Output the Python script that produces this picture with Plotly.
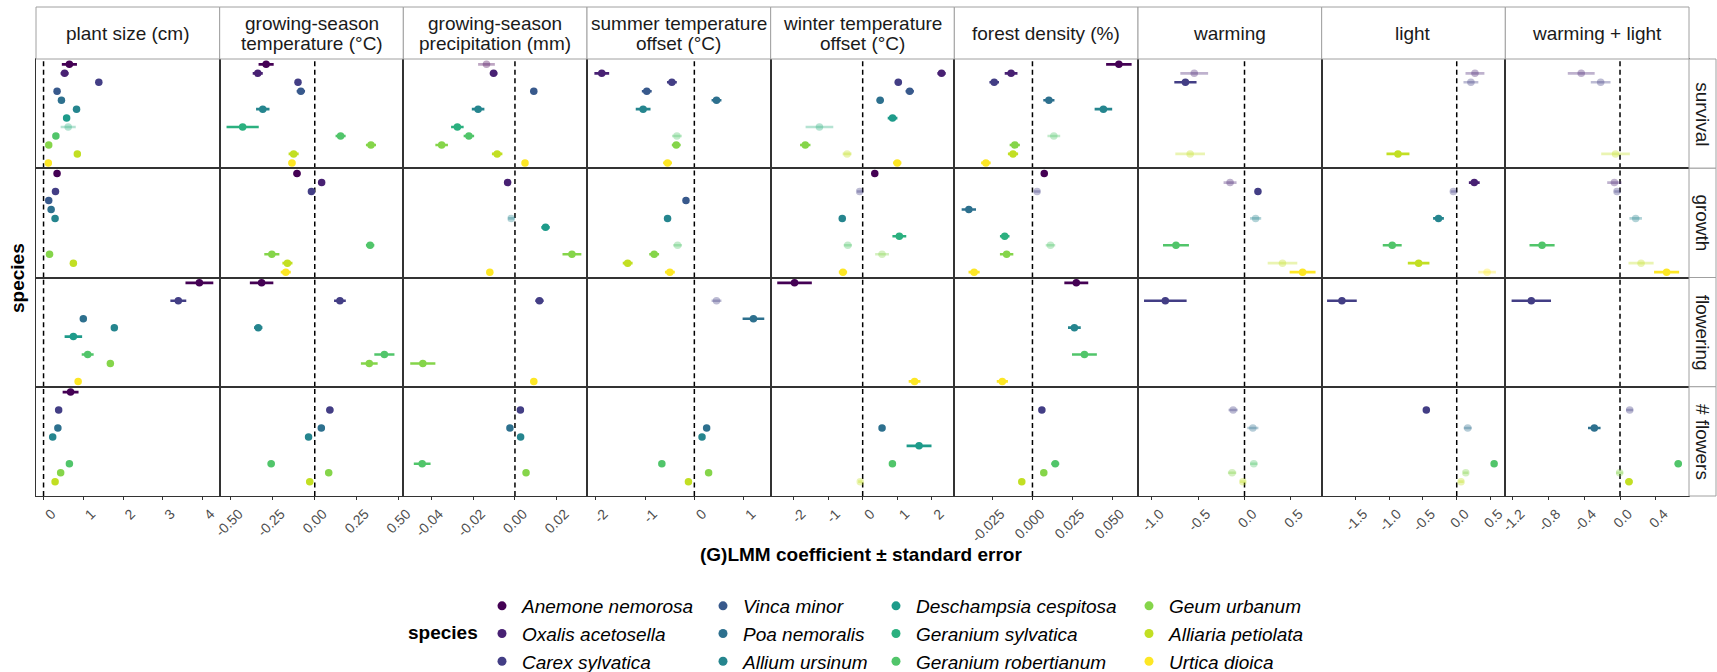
import plotly.graph_objects as go

# ---------------- data ----------------
species = ["Anemone nemorosa", "Oxalis acetosella", "Carex sylvatica", "Vinca minor",
           "Poa nemoralis", "Allium ursinum", "Deschampsia cespitosa", "Geranium sylvatica",
           "Geranium robertianum", "Geum urbanum", "Alliaria petiolata", "Urtica dioica"]
colors = ["#440154", "#482173", "#433E85", "#38598C", "#2D708E", "#25858E",
          "#1E9B8A", "#2BB07F", "#51C56A", "#85D54A", "#C2DF23", "#FDE725"]
responses = ["survival", "growth", "flowering", "# flowers"]
predictor_labels = [["plant size (cm)"], ["growing-season", "temperature (°C)"],
                    ["growing-season", "precipitation (mm)"], ["summer temperature", "offset (°C)"],
                    ["winter temperature", "offset (°C)"], ["forest density (%)"],
                    ["warming"], ["light"], ["warming + light"]]

# (species index, coefficient, standard error, significant)
plant_size = {
    "survival": [(0, 0.65, 0.19, 1), (1, 0.53, 0.10, 1), (2, 1.39, 0.05, 1), (3, 0.34, 0.05, 1),
                 (4, 0.45, 0.05, 1), (5, 0.83, 0.05, 1), (6, 0.58, 0.05, 1), (7, 0.62, 0.19, 0),
                 (8, 0.31, 0.05, 1), (9, 0.13, 0.05, 1), (10, 0.85, 0.05, 1), (11, 0.12, 0.05, 1)],
    "growth": [(0, 0.34, 0.04, 1), (2, 0.30, 0.04, 1), (3, 0.13, 0.04, 1), (4, 0.19, 0.04, 1),
               (5, 0.29, 0.04, 1), (9, 0.15, 0.04, 1), (10, 0.75, 0.05, 1)],
    "flowering": [(0, 3.92, 0.35, 1), (2, 3.39, 0.20, 1), (4, 1.00, 0.06, 1), (5, 1.78, 0.06, 1),
                  (6, 0.75, 0.22, 1), (8, 1.11, 0.15, 1), (9, 1.68, 0.07, 1), (11, 0.87, 0.05, 1)],
    "# flowers": [(0, 0.68, 0.20, 1), (2, 0.38, 0.04, 1), (4, 0.36, 0.04, 1), (5, 0.23, 0.05, 1),
                  (8, 0.65, 0.05, 1), (9, 0.43, 0.05, 1), (10, 0.29, 0.05, 1)],
}
gs_temperature = {
    "survival": [(0, -0.29, 0.045, 1), (1, -0.34, 0.03, 1), (2, -0.10, 0.015, 1), (3, -0.083, 0.025, 1),
                 (5, -0.31, 0.04, 1), (7, -0.43, 0.096, 1), (8, 0.154, 0.03, 1), (9, 0.335, 0.03, 1),
                 (10, -0.126, 0.03, 1), (11, -0.136, 0.02, 1)],
    "growth": [(0, -0.106, 0.02, 1), (1, 0.041, 0.02, 1), (2, -0.02, 0.02, 1), (8, 0.33, 0.025, 1),
               (9, -0.256, 0.045, 1), (10, -0.163, 0.03, 1), (11, -0.173, 0.03, 1)],
    "flowering": [(0, -0.317, 0.07, 1), (2, 0.15, 0.035, 1), (5, -0.337, 0.025, 1),
                  (8, 0.415, 0.06, 1), (9, 0.325, 0.05, 1)],
    "# flowers": [(2, 0.09, 0.02, 1), (4, 0.039, 0.02, 1), (5, -0.037, 0.02, 1),
                  (8, -0.26, 0.02, 1), (9, 0.083, 0.02, 1), (10, -0.03, 0.02, 1)],
}
gs_precipitation = {
    "survival": [(0, -0.0136, 0.004, 0), (1, -0.0102, 0.0018, 1), (3, 0.009, 0.0015, 1),
                 (5, -0.0176, 0.003, 1), (7, -0.0275, 0.003, 1), (8, -0.022, 0.0025, 1),
                 (9, -0.035, 0.003, 1), (10, -0.0085, 0.0025, 1), (11, 0.0048, 0.0012, 1)],
    "growth": [(1, -0.0035, 0.0012, 1), (5, -0.0018, 0.0015, 0), (6, 0.0146, 0.002, 1),
               (9, 0.0272, 0.0045, 1), (11, -0.012, 0.0015, 1)],
    "flowering": [(2, 0.0117, 0.002, 1), (9, -0.044, 0.006, 1), (11, 0.009, 0.0015, 1)],
    "# flowers": [(2, 0.0026, 0.001, 1), (4, -0.0024, 0.001, 1), (5, 0.0027, 0.001, 1),
                  (8, -0.0443, 0.004, 1), (9, 0.0053, 0.001, 1)],
}
summer_offset = {
    "survival": [(1, -1.88, 0.15, 1), (2, -0.456, 0.10, 1), (3, -0.966, 0.10, 1), (4, 0.45, 0.10, 1),
                 (5, -1.04, 0.15, 1), (8, -0.354, 0.10, 0), (9, -0.367, 0.09, 1), (11, -0.544, 0.09, 1)],
    "growth": [(3, -0.17, 0.05, 1), (5, -0.544, 0.05, 1), (8, -0.34, 0.09, 0), (9, -0.816, 0.10, 1),
               (10, -1.354, 0.10, 1), (11, -0.497, 0.10, 1)],
    "flowering": [(2, 0.45, 0.10, 0), (4, 1.20, 0.22, 1)],
    "# flowers": [(4, 0.25, 0.05, 1), (5, 0.156, 0.05, 1), (8, -0.66, 0.05, 1),
                  (9, 0.29, 0.05, 1), (10, -0.12, 0.05, 1)],
}
winter_offset = {
    "survival": [(1, 2.28, 0.12, 1), (2, 1.03, 0.10, 1), (3, 1.36, 0.12, 1), (4, 0.505, 0.10, 1),
                 (6, 0.864, 0.14, 1), (7, -1.25, 0.40, 0), (9, -1.66, 0.15, 1), (10, -0.45, 0.13, 0),
                 (11, 1.00, 0.12, 1)],
    "growth": [(0, 0.35, 0.06, 1), (2, -0.087, 0.08, 0), (5, -0.59, 0.07, 1), (7, 1.06, 0.20, 1),
               (8, -0.43, 0.12, 0), (9, 0.56, 0.20, 0), (11, -0.57, 0.12, 1)],
    "flowering": [(0, -1.97, 0.50, 1), (11, 1.50, 0.17, 1)],
    "# flowers": [(4, 0.56, 0.07, 1), (6, 1.63, 0.36, 1), (8, 0.86, 0.07, 1), (10, -0.07, 0.06, 0)],
}
forest_density = {
    "survival": [(0, 0.0542, 0.008, 1), (1, -0.0134, 0.004, 1), (2, -0.024, 0.003, 1),
                 (4, 0.0103, 0.0035, 1), (5, 0.0445, 0.0055, 1), (8, 0.0134, 0.004, 0),
                 (9, -0.0111, 0.0032, 1), (10, -0.0122, 0.0032, 1), (11, -0.0292, 0.003, 1)],
    "growth": [(0, 0.0074, 0.0015, 1), (2, 0.0029, 0.002, 0), (4, -0.0399, 0.0045, 1),
               (7, -0.0174, 0.003, 1), (8, 0.0113, 0.003, 0), (9, -0.0162, 0.0042, 1),
               (11, -0.0366, 0.0035, 1)],
    "flowering": [(0, 0.0275, 0.0075, 1), (5, 0.0263, 0.004, 1), (8, 0.0326, 0.0078, 1),
                  (11, -0.0189, 0.0035, 1)],
    "# flowers": [(2, 0.0059, 0.0015, 1), (8, 0.0143, 0.0025, 1), (9, 0.0071, 0.0015, 1),
                  (10, -0.0067, 0.0015, 1)],
}
warming = {
    "survival": [(1, -0.543, 0.15, 0), (2, -0.638, 0.12, 1), (10, -0.587, 0.16, 0)],
    "growth": [(1, -0.156, 0.07, 0), (2, 0.145, 0.03, 1), (5, 0.12, 0.06, 0), (8, -0.74, 0.14, 1),
               (10, 0.41, 0.16, 0), (11, 0.627, 0.14, 1)],
    "flowering": [(2, -0.855, 0.23, 1)],
    "# flowers": [(2, -0.123, 0.05, 0), (4, 0.09, 0.06, 0), (8, 0.10, 0.04, 0),
                  (9, -0.134, 0.045, 0), (10, -0.018, 0.03, 0)],
}
light = {
    "survival": [(1, 0.27, 0.14, 0), (2, 0.21, 0.11, 0), (10, -0.87, 0.17, 1)],
    "growth": [(1, 0.26, 0.08, 1), (2, -0.05, 0.04, 0), (5, -0.27, 0.08, 1), (8, -0.955, 0.14, 1),
               (10, -0.564, 0.16, 1), (11, 0.45, 0.13, 0)],
    "flowering": [(2, -1.70, 0.22, 1)],
    "# flowers": [(2, -0.45, 0.04, 1), (4, 0.163, 0.06, 0), (8, 0.554, 0.04, 1),
                  (9, 0.134, 0.04, 0), (10, 0.064, 0.04, 0)],
}
warming_light = {
    "survival": [(1, -0.433, 0.15, 0), (2, -0.216, 0.11, 0), (10, -0.05, 0.16, 0)],
    "growth": [(1, -0.063, 0.08, 0), (2, -0.034, 0.03, 0), (5, 0.175, 0.07, 0), (8, -0.87, 0.14, 1),
               (10, 0.235, 0.14, 0), (11, 0.52, 0.14, 1)],
    "flowering": [(2, -0.99, 0.22, 1)],
    "# flowers": [(2, 0.108, 0.04, 0), (4, -0.287, 0.07, 1), (8, 0.65, 0.04, 1),
                  (9, -0.004, 0.04, 0), (10, 0.10, 0.04, 1)],
}
predictors = [plant_size, gs_temperature, gs_precipitation, summer_offset, winter_offset,
              forest_density, warming, light, warming_light]

tick_vals = [[0, 1, 2, 3, 4], [-0.5, -0.25, 0, 0.25, 0.5], [-0.04, -0.02, 0, 0.02],
             [-2, -1, 0, 1], [-2, -1, 0, 1, 2], [-0.025, 0, 0.025, 0.05],
             [-1, -0.5, 0, 0.5], [-1.5, -1, -0.5, 0, 0.5], [-1.2, -0.8, -0.4, 0, 0.4]]
tick_text = [["0", "1", "2", "3", "4"], ["-0.50", "-0.25", "0.00", "0.25", "0.50"],
             ["-0.04", "-0.02", "0.00", "0.02"], ["-2", "-1", "0", "1"], ["-2", "-1", "0", "1", "2"],
             ["-0.025", "0.000", "0.025", "0.050"], ["-1.0", "-0.5", "0.0", "0.5"],
             ["-1.5", "-1.0", "-0.5", "0.0", "0.5"], ["-1.2", "-0.8", "-0.4", "0.0", "0.4"]]
x_ranges = [[-0.19, 4.43], [-0.567, 0.528], [-0.0533, 0.0344], [-2.18, 1.55], [-2.66, 2.65],
            [-0.049, 0.0662], [-1.15, 0.833], [-2.0, 0.72], [-1.28, 0.77]]

# ---------------- layout geometry (pixels) ----------------
W, H = 1717, 672
FONT = "Liberation Sans, Arial, Helvetica, sans-serif"
left, right = 36, 1689
top, bottom = 59, 496
strip_top = 7
strip_right = 1716
ncol, nrow = 9, 4
cw = (right - left) / ncol
rh = (bottom - top) / nrow


def px(x):
    return x / W


def py(y):
    return 1 - y / H


def rgba(hexc, a):
    h = hexc.lstrip("#")
    return "rgba(%d,%d,%d,%.2f)" % (int(h[0:2], 16), int(h[2:4], 16), int(h[4:6], 16), a)


fig = go.Figure()
layout = {}
shapes = []
annotations = []

for r, resp in enumerate(responses):
    for c in range(ncol):
        k = r * ncol + c + 1
        xa = "x" if k == 1 else "x%d" % k
        ya = "y" if k == 1 else "y%d" % k
        x0 = left + c * cw
        y0 = top + r * rh
        bottom_row = (r == nrow - 1)
        layout["xaxis" if k == 1 else "xaxis%d" % k] = dict(
            domain=[px(x0), px(x0 + cw)], anchor=ya, range=x_ranges[c],
            tickvals=tick_vals[c], ticktext=tick_text[c],
            showticklabels=bottom_row, ticks="outside" if bottom_row else "",
            ticklen=3, tickwidth=1, tickcolor="#333333", tickangle=-45, ticklabelshift=8,
            tickfont=dict(family=FONT, size=14, color="#4d4d4d"), automargin=False,
            showgrid=False, zeroline=False, showline=True, mirror=True,
            linecolor="#333333", linewidth=1.3, fixedrange=True)
        layout["yaxis" if k == 1 else "yaxis%d" % k] = dict(
            domain=[py(y0 + rh), py(y0)], anchor=xa, range=[12.6, 0.4], automargin=False,
            showticklabels=False, ticks="", showgrid=False, zeroline=False,
            showline=True, mirror=True, linecolor="#333333", linewidth=1.3, fixedrange=True)
        # zero reference line
        shapes.append(dict(type="line", xref=xa, yref=ya + " domain", x0=0, x1=0, y0=0, y1=1,
                           line=dict(color="black", width=1.5, dash="5px,3.5px"), layer="below"))
        for (si, est, se, sig) in predictors[c][resp]:
            col = colors[si] if sig else rgba(colors[si], 0.35)
            fig.add_trace(go.Scatter(
                x=[est], y=[si + 1], xaxis=xa, yaxis=ya, mode="markers",
                marker=dict(size=7.5, color=col, line=dict(width=0)),
                error_x=dict(type="data", array=[se], color=col, thickness=2.6, width=0),
                showlegend=False, hoverinfo="skip"))

# strips
for c in range(ncol):
    x0 = left + c * cw
    shapes.append(dict(type="rect", xref="paper", yref="paper", x0=px(x0), x1=px(x0 + cw),
                       y0=py(top), y1=py(strip_top), fillcolor="white",
                       line=dict(color="#a0a0a0", width=1)))
    lines = predictor_labels[c]
    ys = [33.5] if len(lines) == 1 else [24, 44]
    for txt, yy in zip(lines, ys):
        annotations.append(dict(text=txt, x=px(x0 + cw / 2), y=py(yy), xref="paper",
                                yref="paper", showarrow=False, xanchor="center", yanchor="middle",
                                font=dict(family=FONT, size=19, color="#1a1a1a")))
for r, resp in enumerate(responses):
    y0 = top + r * rh
    shapes.append(dict(type="rect", xref="paper", yref="paper", x0=px(right), x1=px(strip_right),
                       y0=py(y0 + rh), y1=py(y0), fillcolor="white",
                       line=dict(color="#a0a0a0", width=1)))
    annotations.append(dict(text=resp, x=px((right + strip_right) / 2), y=py(y0 + rh / 2),
                            xref="paper", yref="paper", showarrow=False, textangle=90,
                            xanchor="center", yanchor="middle",
                            font=dict(family=FONT, size=19, color="#1a1a1a")))

# axis titles
annotations.append(dict(text="<b>species</b>", x=px(17), y=py(278), xref="paper", yref="paper",
                        showarrow=False, textangle=-90, xanchor="center", yanchor="middle",
                        font=dict(family=FONT, size=19, color="black")))
annotations.append(dict(text="<b>(G)LMM coefficient ± standard error</b>", x=px(861), y=py(554),
                        xref="paper", yref="paper", showarrow=False, xanchor="center",
                        yanchor="middle", font=dict(family=FONT, size=19, color="black")))
annotations.append(dict(text="<b>species</b>", x=px(480), y=py(632), xref="paper", yref="paper",
                        showarrow=False, xanchor="right", yanchor="middle",
                        font=dict(family=FONT, size=19, color="black")))

# legend (4 columns of 3)
legend_names = ["legend", "legend2", "legend3", "legend4"]
text_starts = [529, 750, 923, 1176]
for i, name in enumerate(species):
    fig.add_trace(go.Scatter(x=[None], y=[None], xaxis="x", yaxis="y", mode="markers",
                             marker=dict(size=9, color=colors[i]), name="<i>%s</i>" % name,
                             legend=legend_names[i // 3], showlegend=True))
for j, ln in enumerate(legend_names):
    layout[ln] = dict(x=px(text_starts[j] - 47), y=py(587), xanchor="left", yanchor="top",
                      orientation="v", bgcolor="rgba(0,0,0,0)", borderwidth=0,
                      tracegroupgap=0, font=dict(family=FONT, size=19, color="black"))

fig.update_layout(**layout)
fig.update_layout(width=W, height=H, margin=dict(l=0, r=0, t=0, b=0, pad=0, autoexpand=False),
                  paper_bgcolor="white", plot_bgcolor="rgba(0,0,0,0)",
                  shapes=shapes, annotations=annotations, showlegend=True,
                  font=dict(family=FONT))
fig.write_html("out.html", config={"displayModeBar": False},
               post_script="document.body.style.margin='0';")
